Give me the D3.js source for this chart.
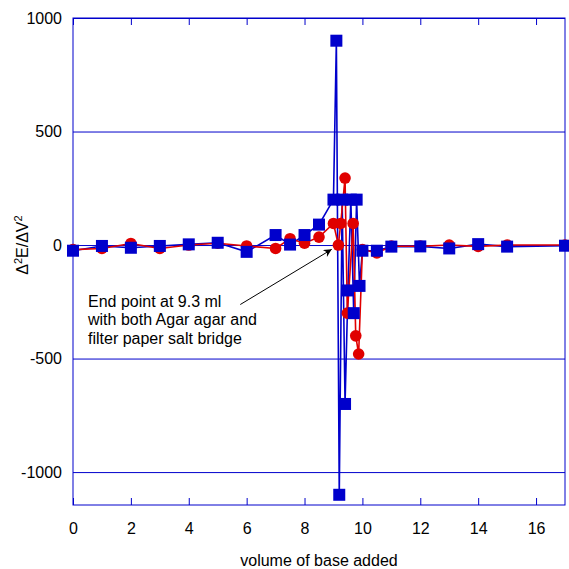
<html>
    <head>
        <meta charset="utf-8">
        <title>Second derivative titration curve</title>
        <script src="https://d3js.org/d3.v7.min.js"></script>
        <style>
            body { margin: 0; background: #fff; }
            text { font-family: "Liberation Sans", Arial, sans-serif; }
        </style>
    </head>
    <body>
        <script>
            // filter paper salt bridge (blue squares)
            const blueX = [0, 1, 2, 3, 4, 5, 6, 7, 7.5, 8, 8.5, 9, 9.1, 9.2, 9.3, 9.4, 9.5, 9.6, 9.7, 9.8, 9.9, 10, 10.5, 11, 12, 13, 14, 15, 17];
            const blueY = [-25, -4, -12, -4, 3, 10, -30, 44, 2, 44, 90, 200, 900, -1100, 200, -700, -200, 200, -300, 200, -180, -25, -25, -7, -6, -15, 4, -7, -3];

            // agar agar salt bridge (red circles)
            const redX = [0, 1, 2, 3, 4, 5, 6, 7, 7.5, 8, 8.5, 9, 9.17, 9.25, 9.4, 9.48, 9.68, 9.77, 9.87, 10, 10.5, 11, 12, 13, 14, 15, 17];
            const redY = [-20, -15, 7, -15, 0, 8, -4, -15, 28, 8, 35, 95, 0, 95, 295, -300, 95, -400, -480, -20, -35, -5, -5, 0, -6, 0, 0];

            const xTicks = [0, 2, 4, 6, 8, 10, 12, 14, 16];
            const yTicks = [-1000, -500, 0, 500, 1000];
            const noteLines = ["End point at 9.3 ml", "with both Agar agar and", "filter paper salt bridge"];

            const w = 569;
            const h = 569;
            const plotLeft = 73, plotRight = 565, plotTop = 18, plotBottom = 505;
            const blue = "#0000cc";
            const red = "#e00000";

            const blueData = blueX.map((x, i) => ({x: x, y: blueY[i]}));
            const redData = redX.map((x, i) => ({x: x, y: redY[i]}));

            const xScale = d3.scaleLinear().domain([0, 17]).range([plotLeft, plotRight]);
            const yScale = d3.scaleLinear().domain([-1145, 1000]).range([plotBottom, plotTop]);

            const svg = d3.select("body")
                .append("svg")
                .attr("width", w)
                .attr("height", h);

            // horizontal grid lines
            svg.append("g")
                .attr("transform", `translate(${plotLeft}, 0)`)
                .call(d3.axisLeft(yScale).tickValues(yTicks).tickSize(-(plotRight - plotLeft)).tickFormat(""))
                .call(g => g.select(".domain").remove())
                .call(g => g.selectAll("line").attr("stroke", blue).attr("stroke-width", 1));

            // frame
            svg.append("rect")
                .attr("x", plotLeft)
                .attr("y", plotTop)
                .attr("width", plotRight - plotLeft)
                .attr("height", plotBottom - plotTop)
                .attr("fill", "none")
                .attr("stroke", blue)
                .attr("stroke-width", 1);

            // x axis ticks, inward, bottom and top
            svg.append("g")
                .attr("transform", `translate(0, ${plotBottom})`)
                .call(d3.axisBottom(xScale).tickValues(xTicks).tickSize(-7).tickPadding(18).tickFormat(d => String(d)))
                .call(g => g.select(".domain").remove())
                .call(g => g.selectAll("line").attr("stroke", blue))
                .call(g => g.selectAll("text").attr("fill", "#000").style("font-size", "16px"));

            svg.append("g")
                .attr("transform", `translate(0, ${plotTop})`)
                .call(d3.axisTop(xScale).tickValues(xTicks).tickSize(-7).tickFormat(""))
                .call(g => g.select(".domain").remove())
                .call(g => g.selectAll("line").attr("stroke", blue));

            // y axis labels (plain hyphen minus, no thousands separator)
            svg.append("g")
                .attr("transform", `translate(${plotLeft}, 0)`)
                .call(d3.axisLeft(yScale).tickValues(yTicks).tickSize(0).tickPadding(11).tickFormat(d => String(d)))
                .call(g => g.select(".domain").remove())
                .call(g => g.selectAll("text").attr("fill", "#000").style("font-size", "16px"));

            const line = d3.line()
                .x(d => xScale(d.x))
                .y(d => yScale(d.y));

            svg.append("path")
                .datum(blueData)
                .attr("d", line)
                .attr("fill", "none")
                .attr("stroke", blue)
                .attr("stroke-width", 1.6);

            svg.append("path")
                .datum(redData)
                .attr("d", line)
                .attr("fill", "none")
                .attr("stroke", red)
                .attr("stroke-width", 1.6);

            svg.selectAll("circle.red")
                .data(redData)
                .enter()
                .append("circle")
                .attr("class", "red")
                .attr("cx", d => xScale(d.x))
                .attr("cy", d => yScale(d.y))
                .attr("r", 5.8)
                .attr("fill", red);

            svg.selectAll("rect.blue")
                .data(blueData)
                .enter()
                .append("rect")
                .attr("class", "blue")
                .attr("x", d => xScale(d.x) - 6)
                .attr("y", d => yScale(d.y) - 6)
                .attr("width", 12)
                .attr("height", 12)
                .attr("fill", blue);

            // axis titles
            svg.append("text")
                .attr("x", (plotLeft + plotRight) / 2)
                .attr("y", 566)
                .attr("text-anchor", "middle")
                .style("font-size", "16px")
                .text("volume of base added");

            const yTitle = svg.append("text")
                .attr("transform", `translate(28, ${yScale(0)}) rotate(-90)`)
                .attr("text-anchor", "middle")
                .style("font-size", "16px");
            yTitle.append("tspan").text("\u0394");
            yTitle.append("tspan").attr("baseline-shift", "super").style("font-size", "11px").text("2");
            yTitle.append("tspan").text("E/\u0394V");
            yTitle.append("tspan").attr("baseline-shift", "super").style("font-size", "11px").text("2");

            // annotation
            svg.append("defs")
                .append("marker")
                .attr("id", "arrow")
                .attr("viewBox", "0 0 10 10")
                .attr("refX", 10)
                .attr("refY", 5)
                .attr("markerWidth", 11)
                .attr("markerHeight", 8)
                .attr("markerUnits", "userSpaceOnUse")
                .attr("orient", "auto")
                .append("path")
                .attr("d", "M0,0 L10,5 L0,10 L3,5 Z")
                .attr("fill", "#000");

            svg.append("line")
                .attr("x1", xScale(5.78))
                .attr("y1", yScale(-262))
                .attr("x2", xScale(8.94))
                .attr("y2", yScale(-19))
                .attr("stroke", "#000")
                .attr("stroke-width", 1)
                .attr("marker-end", "url(#arrow)");

            svg.append("text")
                .attr("x", 88)
                .attr("y", 307)
                .style("font-size", "16px")
                .selectAll("tspan")
                .data(noteLines)
                .enter()
                .append("tspan")
                .attr("x", 88)
                .attr("dy", (d, i) => i === 0 ? 0 : 18.4)
                .text(d => d);
        </script>
    </body>
</html>
